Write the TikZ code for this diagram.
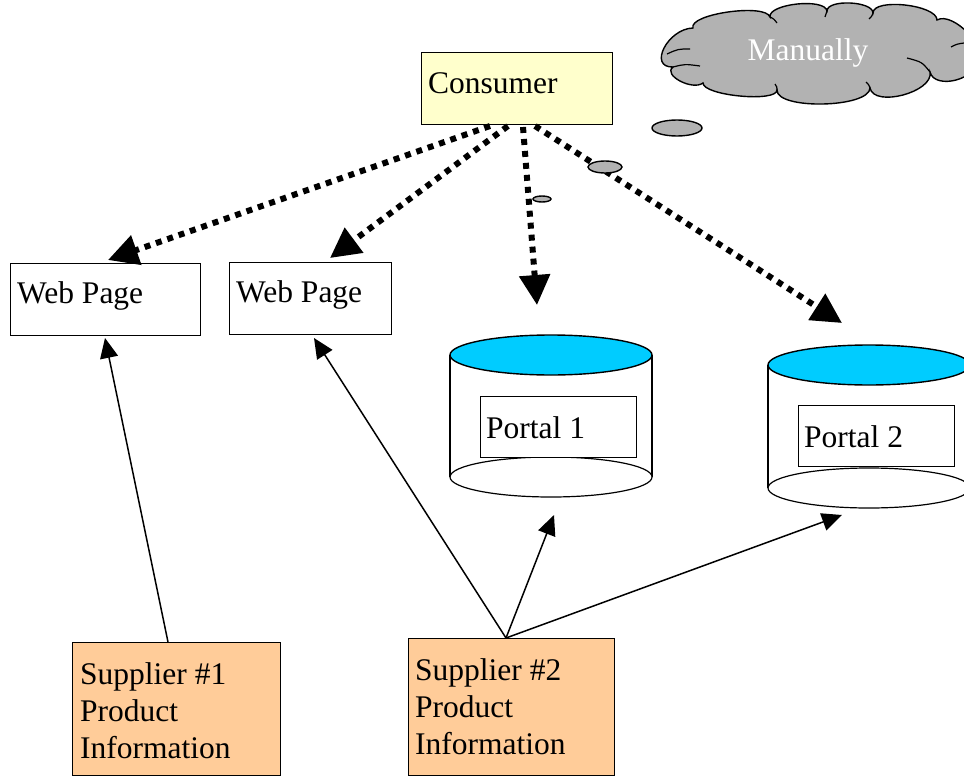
\documentclass[tikz,border=0pt]{standalone}
\usepackage{fontspec}
\setmainfont{Liberation Serif}
\usetikzlibrary{arrows.meta,shapes.geometric}
\definecolor{consumerfill}{HTML}{FFFFCC}
\definecolor{supplierfill}{HTML}{FFCC99}
\definecolor{portaltop}{HTML}{00CCFF}
\definecolor{thought}{HTML}{B2B2B2}

\begin{document}
\begin{tikzpicture}[x=1pt,y=-1pt,
  box/.style={draw, line width=1.4pt, anchor=north west, inner sep=0pt},
  txt/.style={anchor=base west, inner sep=0pt, font=\fontsize{31.5}{37}\selectfont, align=left},
  dotarrow/.style={line width=6pt, dash pattern=on 6pt off 6pt, -{Triangle[length=30pt,width=30pt]}},
  feed/.style={line width=1.5pt, -{Triangle[length=20pt,width=18pt]}},
  bubble/.style={draw, line width=1.4pt, fill=thought, ellipse, inner sep=0pt},
  drum/.style={line width=1.2pt},
  crease/.style={line width=1.2pt}]
\useasboundingbox (0,0) rectangle (964,776);
\clip (0,0) rectangle (964,776);

% thought cloud, built from puffs
\draw[line width=1.4pt, fill=thought]
  (673,67) .. controls (647.7,67.7) and (667.7,28.7) .. (693,28)
  .. controls (688.3,14) and (765.3,3) .. (770,17)
  .. controls (768,3.7) and (825,-2.3) .. (827,11)
  .. controls (827,-1) and (873,1) .. (873,13)
  .. controls (873,-2.3) and (937,4.7) .. (937,20)
  .. controls (953,10.7) and (991,50.7) .. (975,60)
  .. controls (979.7,78.7) and (934.7,90.7) .. (930,72)
  .. controls (934,92) and (874,108) .. (870,88)
  .. controls (869.3,108) and (776.3,110) .. (777,90)
  .. controls (777,102.7) and (703,95.7) .. (703,83)
  .. controls (692.3,91) and (662.3,75) .. (673,67) -- cycle;
% creases between the puffs
\draw[crease] (673,67) .. controls (685,64) .. (700,66);
\draw[crease] (667,54) .. controls (678,49) .. (690,49);
\draw[crease] (770,17) .. controls (774,19) .. (777,23);
\draw[crease] (827,11) .. controls (826,14) .. (825,17);
\draw[crease] (873,13) .. controls (872,16) .. (869,19);
\draw[crease] (930,72) .. controls (922,62) .. (907,58);
\draw[crease] (951,47) .. controls (957,44) .. (964,43);
\draw[crease] (777,90) .. controls (777,87) .. (775,84);
\draw[crease] (870,88) .. controls (869,85) .. (866,82);
\coordinate (cloud) at (815,55);
\node[txt, text=white, anchor=base] (cloud-text) at (808,60) {Manually};

% consumer
\node[box, fill=consumerfill, minimum width=191, minimum height=72] (consumer) at (421,52) {};
\node[txt] (consumer-text) at (428,93) {Consumer};

% web pages
\node[box, fill=white, minimum width=190, minimum height=72] (web1) at (10,263) {};
\node[txt] (web1-text) at (17,303) {Web Page};
\node[box, fill=white, minimum width=162, minimum height=72] (web2) at (229,262) {};
\node[txt] (web2-text) at (236,302) {Web Page};

% portal 1 drum
\draw[drum] (450,355) -- (450,477);
\draw[drum] (652,355) -- (652,477);
\draw[drum, fill=white] (551,477) ellipse [x radius=101, y radius=20];
\draw[line width=1.4pt, fill=portaltop] (551,355) ellipse [x radius=101, y radius=20];
\node[box, fill=white, minimum width=156, minimum height=61] (portal1) at (480,396) {};
\node[txt] (portal1-text) at (486,438) {Portal 1};

% portal 2 drum
\draw[drum] (768,365) -- (768,488);
\draw[drum] (970,365) -- (970,488);
\draw[drum, fill=white] (869,488) ellipse [x radius=101, y radius=20];
\draw[line width=1.4pt, fill=portaltop] (869,365) ellipse [x radius=101, y radius=20];
\node[box, fill=white, minimum width=156, minimum height=61] (portal2) at (798,405) {};
\node[txt] (portal2-text) at (804,447) {Portal 2};

% suppliers (text anchored on the baseline of its last line)
\node[box, fill=supplierfill, minimum width=208, minimum height=133] (sup1) at (72,642) {};
\node[txt] (sup1-text) at (80,758) {Supplier \#1\\Product\\Information};
\node[box, fill=supplierfill, minimum width=206, minimum height=137] (sup2) at (408,638) {};
\node[txt] (sup2-text) at (415,754) {Supplier \#2\\Product\\Information};

% connector end points
\coordinate (c-web1) at (490,126);
\coordinate (c-web2) at (508,126);
\coordinate (c-p1) at (523,127);
\coordinate (c-p2) at (535,126);
\coordinate (web1-top) at (108,260);
\coordinate (web2-top) at (330,258);
\coordinate (p1-top) at (537,305);
\coordinate (p2-top) at (842,323);
\coordinate (s1-top) at (168,642);
\coordinate (s2-top) at (506,638);
\coordinate (web1-bot) at (105,338);
\coordinate (web2-bot) at (314,338);
\coordinate (p1-bot) at (554,515);
\coordinate (p2-bot) at (842,515);

% consumer looks things up by hand
\draw[dotarrow] (c-web1) -- (web1-top);
\draw[dotarrow] (c-web2) -- (web2-top);
\draw[dotarrow] (c-p1) -- (p1-top);
\draw[dotarrow] (c-p2) -- (p2-top);

% thought bubbles
\node[bubble, minimum width=50, minimum height=16] (bubble1) at (677,128) {};
\node[bubble, minimum width=34, minimum height=12] (bubble2) at (605,167) {};
\node[bubble, minimum width=18, minimum height=6] (bubble3) at (542,199) {};

% suppliers publish their information
\draw[feed] (s1-top) -- (web1-bot);
\draw[feed] (s2-top) -- (web2-bot);
\draw[feed] (s2-top) -- (p1-bot);
\draw[feed] (s2-top) -- (p2-bot);
\end{tikzpicture}
\end{document}
